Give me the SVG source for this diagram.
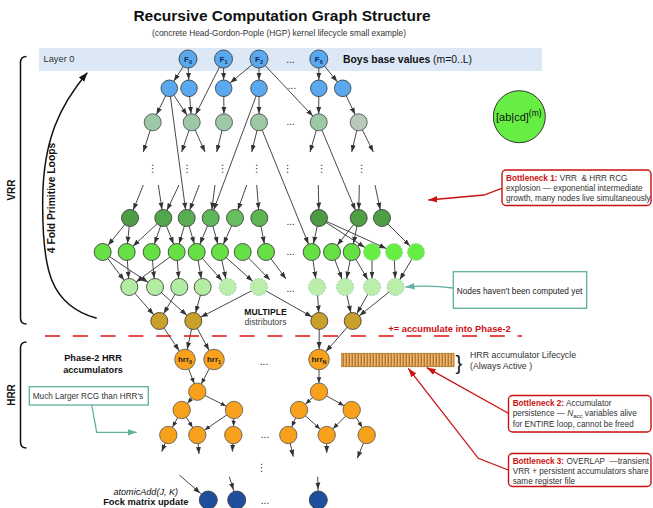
<svg xmlns="http://www.w3.org/2000/svg" width="653" height="508" viewBox="0 0 653 508">
<style>
text{font-family:"Liberation Sans",Arial,sans-serif;fill:#222}
.b{font-weight:bold}
.e{stroke:#333;stroke-width:0.9;fill:none}
.blue{fill:#5aa9ee;stroke:#333;stroke-width:0.8}
.gg{fill:#9dc8a6;stroke:#444;stroke-width:0.8}
.lg{fill:#66e044;stroke:#333;stroke-width:0.8}
.lgd{fill:#66ee44;stroke:#8fc98f;stroke-width:0.8;stroke-dasharray:2 1.5}
.pg{fill:#b3eca3;stroke:#333;stroke-width:0.8}
.pgd{fill:#baeeaa;stroke:#86c3b3;stroke-width:0.8;stroke-dasharray:2 1.5}
.au{fill:#c9a02c;stroke:#333;stroke-width:0.8}
.or{fill:#f7a11c;stroke:#555;stroke-width:0.8}
.kb{fill:#1f4f9c;stroke:#333;stroke-width:0.8}
.dots{font-size:10px;fill:#222}
.vd{font-family:"DejaVu Sans",sans-serif;font-size:10px;fill:#333}
.flab{font-size:8px;font-weight:bold;fill:#0b2a55}
.hlab{font-size:8px;font-weight:bold;fill:#222}
.bn{font-size:8.2px;fill:#333}
.red{fill:#cc1111;font-weight:bold}
.rl{stroke:#cc1111;stroke-width:1.3;fill:none}
.tl{stroke:#5fb0a0;stroke-width:1.3;fill:none}
</style>
<defs>
<marker id="a0" markerUnits="userSpaceOnUse" markerWidth="8" markerHeight="6" refX="7" refY="3" orient="auto"><path d="M0,0.5 L7,3 L0,5.5 z" fill="#333"/></marker>
<marker id="a8" markerUnits="userSpaceOnUse" markerWidth="8" markerHeight="6" refX="15.5" refY="3" orient="auto"><path d="M0,0.5 L7,3 L0,5.5 z" fill="#333"/></marker>
<marker id="a9" markerUnits="userSpaceOnUse" markerWidth="7" markerHeight="6" refX="14.5" refY="2.5" orient="auto"><path d="M0,0.2 L5.5,2.5 L0,4.8 z" fill="#333"/></marker>
<marker id="a10" markerUnits="userSpaceOnUse" markerWidth="8" markerHeight="6" refX="17.5" refY="3" orient="auto"><path d="M0,0.5 L7,3 L0,5.5 z" fill="#333"/></marker>
<marker id="ak" markerUnits="userSpaceOnUse" markerWidth="10" markerHeight="8" refX="9" refY="4" orient="auto"><path d="M0,0.5 L9,4 L0,7.5 z" fill="#111"/></marker>
<marker id="ar" markerUnits="userSpaceOnUse" markerWidth="10" markerHeight="8" refX="9" refY="4" orient="auto"><path d="M0,0.8 L9,4 L0,7.2 z" fill="#cc1111"/></marker>
<marker id="at" markerUnits="userSpaceOnUse" markerWidth="10" markerHeight="8" refX="9" refY="4" orient="auto"><path d="M0,0.8 L9,4 L0,7.2 z" fill="#5fb0a0"/></marker>
<pattern id="stripes" patternUnits="userSpaceOnUse" x="341.7" y="0" width="3" height="20"><rect width="3" height="20" fill="#f2b262"/><line x1="1.5" y1="0" x2="1.5" y2="20" stroke="#6b4416" stroke-width="0.7"/></pattern>
</defs>

<rect width="653" height="508" fill="#fff"/>

<g id="title">
<text x="282" y="21" text-anchor="middle" class="b" style="font-size:15.5px;fill:#111">Recursive Computation Graph Structure</text>
<text x="279" y="36" text-anchor="middle" style="font-size:8.4px;fill:#333">(concrete Head-Gordon-Pople (HGP) kernel lifecycle small example)</text>
</g>

<g id="layer0">
<rect x="39" y="48" width="503" height="23" fill="#dce8f5"/>
<text x="43.5" y="62.3" style="font-size:9.3px;fill:#333">Layer 0</text>
<text x="343" y="62.8" style="font-size:10.4px;fill:#111"><tspan class="b">Boys base values </tspan>(m=0..L)</text>
</g>

<g id="brackets">
<path d="M26.5,56.5 Q20.5,56.5 20.5,62.5 L20.5,318 Q20.5,324 26.5,324" fill="none" stroke="#111" stroke-width="1.5"/>
<text transform="translate(15.3,190) rotate(-90)" text-anchor="middle" class="b" style="font-size:10px;fill:#111">VRR</text>
<path d="M26.5,342 Q20.5,342 20.5,348 L20.5,442 Q20.5,448 26.5,448" fill="none" stroke="#111" stroke-width="1.5"/>
<text transform="translate(15.3,395) rotate(-90)" text-anchor="middle" class="b" style="font-size:10px;fill:#111">HRR</text>
<path d="M96.7,318.3 C50,305 42,270 42.7,200 C43,140 60,105 87.3,72.7" fill="none" stroke="#111" stroke-width="1.5" marker-end="url(#ak)"/>
<text transform="translate(55.3,198) rotate(-90)" text-anchor="middle" class="b" style="font-size:10.3px;fill:#111">4 Fold Primitive Loops</text>
</g>

<g id="connectors">
<!-- F to row 2 -->
<line class="e" x1="188" y1="59" x2="169.3" y2="88.3" marker-end="url(#a8)"/>
<line class="e" x1="188" y1="59" x2="189" y2="88.3" marker-end="url(#a8)"/>
<line class="e" x1="223.5" y1="59" x2="223.7" y2="88.3" marker-end="url(#a8)"/>
<line class="e" x1="223.5" y1="59" x2="191.7" y2="122.3" marker-end="url(#a8)"/>
<line class="e" x1="259" y1="59" x2="223.7" y2="88.3" marker-end="url(#a8)"/>
<line class="e" x1="259" y1="59" x2="259" y2="88.3" marker-end="url(#a8)"/>
<line class="e" x1="259" y1="59" x2="318.7" y2="122.3" marker-end="url(#a8)"/>
<line class="e" x1="318.8" y1="59" x2="318.8" y2="88.3" marker-end="url(#a8)"/>
<line class="e" x1="318.8" y1="59" x2="342.7" y2="88.3" marker-end="url(#a8)"/>
<!-- row 2 to row 3 -->
<line class="e" x1="169.3" y1="88.3" x2="152.7" y2="122.3" marker-end="url(#a8)"/>
<line class="e" x1="169.3" y1="88.3" x2="191.7" y2="122.3" marker-end="url(#a8)"/>
<line class="e" x1="169.3" y1="88.3" x2="186.7" y2="218" marker-end="url(#a8)"/>
<line class="e" x1="189" y1="88.3" x2="191.7" y2="122.3" marker-end="url(#a8)"/>
<line class="e" x1="223.7" y1="88.3" x2="224" y2="122.3" marker-end="url(#a8)"/>
<line class="e" x1="259" y1="88.3" x2="259" y2="122.3" marker-end="url(#a8)"/>
<line class="e" x1="259" y1="88.3" x2="210.7" y2="218" marker-end="url(#a8)"/>
<line class="e" x1="318.8" y1="88.3" x2="318.7" y2="122.3" marker-end="url(#a8)"/>
<line class="e" x1="342.7" y1="88.3" x2="358.7" y2="122.3" marker-end="url(#a8)"/>
<!-- row 3 short arrows -->
<line class="e" x1="152.7" y1="122.3" x2="143.3" y2="152" marker-end="url(#a0)"/>
<line class="e" x1="191.7" y1="122.3" x2="181.7" y2="152" marker-end="url(#a0)"/>
<line class="e" x1="191.7" y1="122.3" x2="205" y2="152" marker-end="url(#a0)"/>
<line class="e" x1="224" y1="122.3" x2="216.7" y2="152" marker-end="url(#a0)"/>
<line class="e" x1="259" y1="122.3" x2="251.7" y2="152" marker-end="url(#a0)"/>
<line class="e" x1="318.7" y1="122.3" x2="310" y2="152" marker-end="url(#a0)"/>
<line class="e" x1="358.7" y1="122.3" x2="351.7" y2="152" marker-end="url(#a0)"/>
<line class="e" x1="358.7" y1="122.3" x2="373.3" y2="152" marker-end="url(#a0)"/>
<line class="e" x1="259" y1="122.3" x2="311.7" y2="252" marker-end="url(#a8)"/>
<line class="e" x1="318.7" y1="122.3" x2="358.7" y2="218" marker-end="url(#a8)"/>
<!-- into dark green -->
<line class="e" x1="143.3" y1="185" x2="130" y2="218" marker-end="url(#a8)"/>
<line class="e" x1="158.3" y1="185" x2="163.3" y2="218" marker-end="url(#a8)"/>
<line class="e" x1="179" y1="185" x2="163.3" y2="218" marker-end="url(#a8)"/>
<line class="e" x1="199.3" y1="185" x2="186.7" y2="218" marker-end="url(#a8)"/>
<line class="e" x1="215" y1="185" x2="210.7" y2="218" marker-end="url(#a8)"/>
<line class="e" x1="246.7" y1="185" x2="235" y2="218" marker-end="url(#a8)"/>
<line class="e" x1="256.7" y1="185" x2="259.3" y2="218" marker-end="url(#a8)"/>
<line class="e" x1="318.3" y1="185" x2="319" y2="218" marker-end="url(#a8)"/>
<line class="e" x1="359.3" y1="185" x2="358.7" y2="218" marker-end="url(#a8)"/>
<line class="e" x1="375" y1="185" x2="382" y2="218" marker-end="url(#a8)"/>
<!-- dark green to bright -->
<line class="e" x1="130" y1="218" x2="102.7" y2="252" marker-end="url(#a8)"/>
<line class="e" x1="130" y1="218" x2="126.7" y2="252" marker-end="url(#a8)"/>
<line class="e" x1="163.3" y1="218" x2="126.7" y2="252" marker-end="url(#a8)"/>
<line class="e" x1="163.3" y1="218" x2="151.7" y2="252" marker-end="url(#a8)"/>
<line class="e" x1="163.3" y1="218" x2="176.7" y2="252" marker-end="url(#a8)"/>
<line class="e" x1="186.7" y1="218" x2="176.7" y2="252" marker-end="url(#a8)"/>
<line class="e" x1="186.7" y1="218" x2="196.7" y2="252" marker-end="url(#a8)"/>
<line class="e" x1="210.7" y1="218" x2="196.7" y2="252" marker-end="url(#a8)"/>
<line class="e" x1="210.7" y1="218" x2="220" y2="252" marker-end="url(#a8)"/>
<line class="e" x1="235" y1="218" x2="220" y2="252" marker-end="url(#a8)"/>
<line class="e" x1="259.3" y1="218" x2="266" y2="252" marker-end="url(#a8)"/>
<line class="e" x1="319" y1="218" x2="311.7" y2="252" marker-end="url(#a8)"/>
<line class="e" x1="319" y1="218" x2="372" y2="252" marker-end="url(#a8)"/>
<line class="e" x1="319" y1="218" x2="394" y2="252" marker-end="url(#a8)"/>
<line class="e" x1="358.7" y1="218" x2="332" y2="252" marker-end="url(#a8)"/>
<line class="e" x1="358.7" y1="218" x2="351.7" y2="252" marker-end="url(#a8)"/>
<line class="e" x1="382" y1="218" x2="416" y2="252" marker-end="url(#a8)"/>
<!-- bright to pale -->
<line class="e" x1="102.7" y1="252" x2="129.3" y2="287" marker-end="url(#a8)"/>
<line class="e" x1="102.7" y1="252" x2="155" y2="287" marker-end="url(#a8)"/>
<line class="e" x1="126.7" y1="252" x2="129.3" y2="287" marker-end="url(#a8)"/>
<line class="e" x1="151.7" y1="252" x2="155" y2="287" marker-end="url(#a8)"/>
<line class="e" x1="176.7" y1="252" x2="129.3" y2="287" marker-end="url(#a8)"/>
<line class="e" x1="176.7" y1="252" x2="179.3" y2="287" marker-end="url(#a8)"/>
<line class="e" x1="196.7" y1="252" x2="202.7" y2="287" marker-end="url(#a8)"/>
<line class="e" x1="196.7" y1="252" x2="227.7" y2="287" marker-end="url(#a8)"/>
<line class="e" x1="220" y1="252" x2="227.7" y2="287" marker-end="url(#a8)"/>
<line class="e" x1="220" y1="252" x2="259" y2="287" marker-end="url(#a8)"/>
<line class="e" x1="242.7" y1="252" x2="270" y2="280" marker-end="url(#a0)"/>
<line class="e" x1="266" y1="252" x2="286" y2="279" marker-end="url(#a0)"/>
<line class="e" x1="311.7" y1="252" x2="317" y2="287" marker-end="url(#a8)"/>
<line class="e" x1="332" y1="252" x2="345" y2="287" marker-end="url(#a8)"/>
<line class="e" x1="351.7" y1="252" x2="345" y2="287" marker-end="url(#a8)"/>
<line class="e" x1="351.7" y1="252" x2="372" y2="287" marker-end="url(#a8)"/>
<line class="e" x1="372" y1="252" x2="372" y2="287" marker-end="url(#a8)"/>
<line class="e" x1="394" y1="252" x2="395.5" y2="287" marker-end="url(#a8)"/>
<line class="e" x1="416" y1="252" x2="395.5" y2="287" marker-end="url(#a8)"/>
<!-- pale to gold -->
<line class="e" x1="129.3" y1="287" x2="159.3" y2="321" marker-end="url(#a8)"/>
<line class="e" x1="179.3" y1="287" x2="159.3" y2="321" marker-end="url(#a8)"/>
<line class="e" x1="155" y1="287" x2="193.3" y2="321" marker-end="url(#a8)"/>
<line class="e" x1="202.7" y1="287" x2="193.3" y2="321" marker-end="url(#a8)"/>
<line class="e" x1="259" y1="287" x2="193.3" y2="321" marker-end="url(#a8)"/>
<line class="e" x1="259" y1="287" x2="319.3" y2="321" marker-end="url(#a8)"/>
<line class="e" x1="317" y1="287" x2="319.3" y2="321" marker-end="url(#a8)"/>
<line class="e" x1="345" y1="287" x2="352.7" y2="321" marker-end="url(#a8)"/>
<line class="e" x1="372" y1="287" x2="352.7" y2="321" marker-end="url(#a8)"/>
<line class="e" x1="395.5" y1="287" x2="352.7" y2="321" marker-end="url(#a8)"/>
<!-- gold to hrr -->
<line class="e" x1="159.3" y1="321" x2="185" y2="359.5" marker-end="url(#a10)"/>
<line class="e" x1="193.3" y1="321" x2="185" y2="359.5" marker-end="url(#a10)"/>
<line class="e" x1="193.3" y1="321" x2="214" y2="359.5" marker-end="url(#a10)"/>
<line class="e" x1="319.3" y1="321" x2="319" y2="359.5" marker-end="url(#a10)"/>
<line class="e" x1="352.7" y1="321" x2="319" y2="359.5" marker-end="url(#a10)"/>
<!-- hrr tree -->
<line class="e" x1="185" y1="359.5" x2="197.3" y2="391.7" marker-end="url(#a9)"/>
<line class="e" x1="214" y1="359.5" x2="197.3" y2="391.7" marker-end="url(#a9)"/>
<line class="e" x1="319" y1="359.5" x2="319" y2="391.7" marker-end="url(#a9)"/>
<line class="e" x1="197.3" y1="391.7" x2="181.7" y2="410" marker-end="url(#a9)"/>
<line class="e" x1="197.3" y1="391.7" x2="234" y2="410" marker-end="url(#a9)"/>
<line class="e" x1="181.7" y1="410" x2="168.3" y2="435" marker-end="url(#a9)"/>
<line class="e" x1="181.7" y1="410" x2="197.3" y2="435" marker-end="url(#a9)"/>
<line class="e" x1="234" y1="410" x2="197.3" y2="435" marker-end="url(#a9)"/>
<line class="e" x1="234" y1="410" x2="233.3" y2="435" marker-end="url(#a9)"/>
<line class="e" x1="319" y1="391.7" x2="299" y2="410" marker-end="url(#a9)"/>
<line class="e" x1="319" y1="391.7" x2="351.7" y2="410" marker-end="url(#a9)"/>
<line class="e" x1="299" y1="410" x2="288.3" y2="435" marker-end="url(#a9)"/>
<line class="e" x1="299" y1="410" x2="326.7" y2="435" marker-end="url(#a9)"/>
<line class="e" x1="351.7" y1="410" x2="326.7" y2="435" marker-end="url(#a9)"/>
<line class="e" x1="351.7" y1="410" x2="366.7" y2="435" marker-end="url(#a9)"/>
<line class="e" x1="168.3" y1="435" x2="161.7" y2="451.7" marker-end="url(#a0)"/>
<line class="e" x1="197.3" y1="435" x2="199" y2="454" marker-end="url(#a0)"/>
<line class="e" x1="233.3" y1="435" x2="232.3" y2="451.7" marker-end="url(#a0)"/>
<line class="e" x1="288.3" y1="435" x2="293.3" y2="456.7" marker-end="url(#a0)"/>
<line class="e" x1="326.7" y1="435" x2="326.7" y2="453" marker-end="url(#a0)"/>
<line class="e" x1="366.7" y1="435" x2="357.3" y2="458.3" marker-end="url(#a0)"/>
<line class="e" x1="179.3" y1="475" x2="208.3" y2="500" marker-end="url(#a10)"/>
<line class="e" x1="229.3" y1="476.7" x2="236.7" y2="500" marker-end="url(#a10)"/>
<line class="e" x1="317.7" y1="476.7" x2="318.3" y2="500" marker-end="url(#a10)"/>
<!-- annotations -->
<polyline class="rl" points="501.7,188.3 484,195 428.3,200" marker-end="url(#ar)"/>
<line class="rl" x1="508.3" y1="413.3" x2="426.7" y2="367.6" marker-end="url(#ar)"/>
<polyline class="rl" points="508.3,470 478.3,458.3 408.3,368.3" marker-end="url(#ar)"/>
<path class="tl" d="M453.3,288 Q430,285 405.5,287" marker-end="url(#at)"/>
<polyline class="tl" points="91.7,405 96.7,432.3 136.7,432.3" marker-end="url(#at)"/>
</g>

<line id="phase-divider" x1="45" y1="336" x2="522" y2="336" stroke="#dd1111" stroke-width="1.6" stroke-dasharray="15 12.8"/>
<text x="388.3" y="331.5" class="red" style="font-size:9.3px">+= accumulate into Phase-2</text>

<g id="nodes-layer0">
<g id="F0"><circle cx="188" cy="59" r="9" class="blue"/><text x="188" y="62" text-anchor="middle" class="flab">F<tspan dy="1.8" style="font-size:5.5px">0</tspan></text></g>
<g id="F1"><circle cx="223.5" cy="59" r="9" class="blue"/><text x="223.5" y="62" text-anchor="middle" class="flab">F<tspan dy="1.8" style="font-size:5.5px">1</tspan></text></g>
<g id="F2"><circle cx="259" cy="59" r="9" class="blue"/><text x="259" y="62" text-anchor="middle" class="flab">F<tspan dy="1.8" style="font-size:5.5px">2</tspan></text></g>
<g id="F6"><circle cx="318.8" cy="59" r="9" class="blue"/><text x="318.8" y="62" text-anchor="middle" class="flab">F<tspan dy="1.8" style="font-size:5.5px">6</tspan></text></g>
</g>

<g id="nodes-vrr">
<g id="B1"><circle cx="169.3" cy="88.3" r="8.3" class="blue"/></g>
<g id="B2"><circle cx="189" cy="88.3" r="8.3" class="blue"/></g>
<g id="B3"><circle cx="223.7" cy="88.3" r="8.3" class="blue"/></g>
<g id="B4"><circle cx="259" cy="88.3" r="8.3" class="blue"/></g>
<g id="B5"><circle cx="318.8" cy="88.3" r="8.3" class="blue"/></g>
<g id="B6"><circle cx="342.7" cy="88.3" r="8.3" class="blue"/></g>
<g id="G1"><circle cx="152.7" cy="122.3" r="8.5" class="gg"/></g>
<g id="G2"><circle cx="191.7" cy="122.3" r="8.5" class="gg"/></g>
<g id="G3"><circle cx="224" cy="122.3" r="8.5" class="gg"/></g>
<g id="G4"><circle cx="259" cy="122.3" r="8.5" class="gg"/></g>
<g id="G5"><circle cx="318.7" cy="122.3" r="8.5" class="gg"/></g>
<g id="G6"><circle cx="358.7" cy="122.3" r="8.5" class="gg" style="fill:#b8c9b8"/></g>
<g id="D1"><circle cx="130" cy="218" r="8.5" fill="#4e9c45" stroke="#333" stroke-width="0.8"/></g>
<g id="D2"><circle cx="163.3" cy="218" r="8.5" fill="#54a64b" stroke="#333" stroke-width="0.8"/></g>
<g id="D3"><circle cx="186.7" cy="218" r="8.5" fill="#58ad52" stroke="#333" stroke-width="0.8"/></g>
<g id="D4"><circle cx="210.7" cy="218" r="8.5" fill="#60b75a" stroke="#333" stroke-width="0.8"/></g>
<g id="D5"><circle cx="235" cy="218" r="8.5" fill="#67bf5e" stroke="#333" stroke-width="0.8"/></g>
<g id="D6"><circle cx="259.3" cy="218" r="8.5" fill="#5cb453" stroke="#333" stroke-width="0.8"/></g>
<g id="D7"><circle cx="319" cy="218" r="8.5" fill="#4e9a44" stroke="#333" stroke-width="0.8"/></g>
<g id="D8"><circle cx="358.7" cy="218" r="8.5" fill="#4f9e45" stroke="#333" stroke-width="0.8"/></g>
<g id="D9"><circle cx="382" cy="218" r="8.5" fill="#4f9e45" stroke="#333" stroke-width="0.8"/></g>
<g id="L1"><circle cx="102.7" cy="252" r="8.5" class="lg"/></g>
<g id="L2"><circle cx="126.7" cy="252" r="8.5" class="lg"/></g>
<g id="L3"><circle cx="151.7" cy="252" r="8.5" class="lg"/></g>
<g id="L4"><circle cx="176.7" cy="252" r="8.5" class="lg"/></g>
<g id="L5"><circle cx="196.7" cy="252" r="8.5" class="lg"/></g>
<g id="L6"><circle cx="220" cy="252" r="8.5" class="lg"/></g>
<g id="L7"><circle cx="242.7" cy="252" r="8.5" class="lg"/></g>
<g id="L8"><circle cx="266" cy="252" r="8.5" class="lg"/></g>
<g id="L9"><circle cx="311.7" cy="252" r="8.5" class="lg"/></g>
<g id="L10"><circle cx="332" cy="252" r="8.5" class="lg"/></g>
<g id="L11"><circle cx="351.7" cy="252" r="8.5" class="lg"/></g>
<g id="L12"><circle cx="372" cy="252" r="8.5" class="lgd"/></g>
<g id="L13"><circle cx="394" cy="252" r="8.5" class="lgd"/></g>
<g id="L14"><circle cx="416" cy="252" r="8.5" class="lgd"/></g>
<g id="P1"><circle cx="129.3" cy="287" r="8.5" class="pg"/></g>
<g id="P2"><circle cx="155" cy="287" r="8.5" class="pg"/></g>
<g id="P3"><circle cx="179.3" cy="287" r="8.5" class="pg"/></g>
<g id="P4"><circle cx="202.7" cy="287" r="8.5" class="pg"/></g>
<g id="P5"><circle cx="227.7" cy="287" r="8.5" class="pgd"/></g>
<g id="P6"><circle cx="259" cy="287" r="8.5" class="pgd"/></g>
<g id="P7"><circle cx="317" cy="287" r="8.5" class="pgd"/></g>
<g id="P8"><circle cx="345" cy="287" r="8.5" class="pgd"/></g>
<g id="P9"><circle cx="372" cy="287" r="8.5" class="pgd"/></g>
<g id="P10"><circle cx="395.5" cy="287" r="8.5" class="pgd"/></g>
<g id="A1"><circle cx="159.3" cy="321" r="8.5" class="au"/></g>
<g id="A2"><circle cx="193.3" cy="321" r="8.5" class="au"/></g>
<g id="A3"><circle cx="319.3" cy="321" r="8.5" class="au"/></g>
<g id="A4"><circle cx="352.7" cy="321" r="8.5" class="au"/></g>
</g>

<g id="nodes-hrr">
<g id="H0"><circle cx="185" cy="359.5" r="10.3" class="or"/><text x="185" y="362" text-anchor="middle" class="hlab">hrr<tspan dy="1.8" style="font-size:5.5px">0</tspan></text></g>
<g id="H1"><circle cx="214" cy="359.5" r="10.3" class="or"/><text x="214" y="362" text-anchor="middle" class="hlab">hrr<tspan dy="1.8" style="font-size:5.5px">1</tspan></text></g>
<g id="HN"><circle cx="319" cy="359.5" r="10.3" class="or"/><text x="319" y="362" text-anchor="middle" class="hlab">hrr<tspan dy="1.8" style="font-size:5.5px">N</tspan></text></g>
<g id="O1"><circle cx="197.3" cy="391.7" r="8.7" class="or"/></g>
<g id="O1N"><circle cx="319" cy="391.7" r="8.7" class="or"/></g>
<g id="O2a"><circle cx="181.7" cy="410" r="8.7" class="or"/></g>
<g id="O2b"><circle cx="234" cy="410" r="8.7" class="or"/></g>
<g id="O2c"><circle cx="299" cy="410" r="8.7" class="or"/></g>
<g id="O2d"><circle cx="351.7" cy="410" r="8.7" class="or"/></g>
<g id="O3a"><circle cx="168.3" cy="435" r="8.7" class="or"/></g>
<g id="O3b"><circle cx="197.3" cy="435" r="8.7" class="or"/></g>
<g id="O3c"><circle cx="233.3" cy="435" r="8.7" class="or"/></g>
<g id="O3d"><circle cx="288.3" cy="435" r="8.7" class="or"/></g>
<g id="O3e"><circle cx="326.7" cy="435" r="8.7" class="or"/></g>
<g id="O3f"><circle cx="366.7" cy="435" r="8.7" class="or"/></g>
<g id="K1"><circle cx="208.3" cy="500" r="9" class="kb"/></g>
<g id="K2"><circle cx="236.7" cy="500" r="9" class="kb"/></g>
<g id="K3"><circle cx="318.3" cy="500" r="9" class="kb"/></g>
</g>

<g id="ellipses">
<text x="290.4" y="62.5" text-anchor="middle" class="dots">...</text>
<text x="292" y="89" text-anchor="middle" class="dots">...</text>
<text x="290.7" y="125" text-anchor="middle" class="dots">...</text>
<text x="290.7" y="224.5" text-anchor="middle" class="dots">...</text>
<text x="290.7" y="254.5" text-anchor="middle" class="dots">...</text>
<text x="290.7" y="292" text-anchor="middle" class="dots">...</text>
<text x="264" y="364.5" text-anchor="middle" class="dots">...</text>
<text x="265" y="437.5" text-anchor="middle" class="dots">...</text>
<text x="265" y="503.5" text-anchor="middle" class="dots">...</text>
<text x="152.7" y="172" text-anchor="middle" class="vd">⋮</text>
<text x="187.3" y="172" text-anchor="middle" class="vd">⋮</text>
<text x="222.7" y="172" text-anchor="middle" class="vd">⋮</text>
<text x="256.7" y="172" text-anchor="middle" class="vd">⋮</text>
<text x="287.7" y="172" text-anchor="middle" class="vd">⋮</text>
<text x="321.7" y="172" text-anchor="middle" class="vd">⋮</text>
<text x="361.7" y="172" text-anchor="middle" class="vd">⋮</text>
<text x="261.7" y="470.5" text-anchor="middle" class="vd">⋮</text>
</g>

<g id="labels">
<text x="265.5" y="314.8" text-anchor="middle" class="b" style="font-size:8.6px;fill:#111">MULTIPLE</text>
<text x="265.5" y="324.8" text-anchor="middle" style="font-size:8.6px;fill:#444">distributors</text>
<text x="93" y="360.8" text-anchor="middle" class="b" style="font-size:9.2px;fill:#111">Phase-2 HRR</text>
<text x="93" y="372.5" text-anchor="middle" class="b" style="font-size:9.2px;fill:#111">accumulators</text>
<text x="145.8" y="495" text-anchor="middle" style="font-size:9.1px;font-style:italic;fill:#111">atomicAdd(J, K)</text>
<text x="145.8" y="505.3" text-anchor="middle" class="b" style="font-size:9.3px;fill:#111">Fock matrix update</text>
</g>

<g id="legend">
<circle cx="519.3" cy="116.7" r="26" fill="#66ee44" stroke="#333" stroke-width="1"/>
<text x="496" y="121" style="font-size:11px;fill:#111">[ab|cd]<tspan dy="-5" style="font-size:8.5px">(m)</tspan></text>
</g>

<g id="bottleneck1">
<rect x="502" y="170" width="149" height="35.5" rx="4" fill="#fff" stroke="#cc1111" stroke-width="1.4"/>
<text x="506" y="181" class="bn" style="white-space:pre"><tspan class="red">Bottleneck 1:</tspan> VRR  &amp; HRR RCG</text>
<text x="506" y="191" class="bn">explosion — exponential intermediate</text>
<text x="506" y="200.8" class="bn">growth, many nodes live simultaneously</text>
</g>

<g id="note-uncomputed">
<rect x="453.3" y="271.7" width="133.4" height="36.6" fill="#fff" stroke="#5fb0a0" stroke-width="1.3"/>
<text x="456.7" y="293.5" style="font-size:8.3px;fill:#222">Nodes haven't been computed yet</text>
</g>

<g id="note-larger">
<rect x="29.3" y="386.7" width="119" height="18.3" fill="#fff" stroke="#5fb0a0" stroke-width="1.3"/>
<text x="32.8" y="399" style="font-size:8.2px;fill:#333">Much Larger RCG than HRR's</text>
</g>

<g id="accumulator-lifecycle">
<rect x="341.7" y="353.3" width="112.3" height="13.4" fill="url(#stripes)" stroke="#a8741e" stroke-width="0.8"/>
<text x="455.5" y="369.5" style="font-size:20px;fill:#111">}</text>
<text x="470" y="358" style="font-size:8.8px;fill:#333">HRR accumulator Lifecycle</text>
<text x="470" y="368.7" style="font-size:8.8px;fill:#333">(Always Active )</text>
</g>

<g id="bottleneck2">
<rect x="508.5" y="395.5" width="142.5" height="36.5" rx="4" fill="#fff" stroke="#cc1111" stroke-width="1.4"/>
<text x="512.7" y="405.7" class="bn"><tspan class="red">Bottleneck 2:</tspan> Accumulator</text>
<text x="512.7" y="415.7" class="bn">persistence — <tspan style="font-style:italic">N</tspan><tspan dy="2" style="font-size:6px">acc</tspan><tspan dy="-2"> variables alive</tspan></text>
<text x="512.7" y="427.3" class="bn">for ENTIRE loop, cannot be freed</text>
</g>

<g id="bottleneck3">
<rect x="508.5" y="453.5" width="142.5" height="33" rx="4" fill="#fff" stroke="#cc1111" stroke-width="1.4"/>
<text x="512.7" y="463.7" class="bn" style="white-space:pre"><tspan class="red">Bottleneck 3:</tspan> OVERLAP  —transient</text>
<text x="512.7" y="474" class="bn">VRR + persistent accumulators share</text>
<text x="512.7" y="484" class="bn">same register file</text>
</g>
</svg>
